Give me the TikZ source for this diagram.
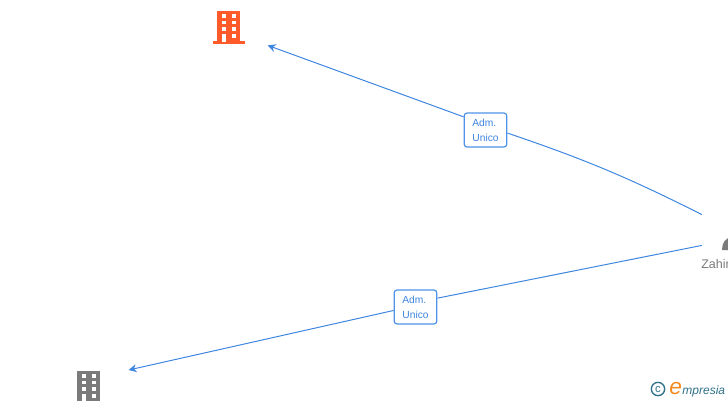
\documentclass[tikz,border=0pt]{standalone}
\usepackage{fontspec}
\setmainfont{Liberation Sans}
\newfontfamily\logofont{Liberation Sans}
\usetikzlibrary{arrows.meta}
\definecolor{linkblue}{HTML}{3F86E0}
\definecolor{boxblue}{HTML}{4F93E8}
\definecolor{cooorange}{HTML}{FF5A2A}
\definecolor{coogray}{HTML}{7B7B7B}
\definecolor{logoteal}{HTML}{2F7188}
\definecolor{logoorange}{HTML}{F28A1E}
\tikzset{
	link/.style={draw=linkblue, line width=.75pt},
	linkarrow/.style={link, -{Stealth[length=6pt,width=6pt]}},
	rolebox/.style={rectangle, draw=boxblue, line width=.9pt, rounded corners=2.2pt, fill=white, text=linkblue, minimum width=32pt, minimum height=25.5pt, inner sep=0pt, align=left, font=\fontsize{7.7}{11.25}\selectfont},
	iconzone/.style={circle, minimum size=64.5pt, inner sep=0pt, outer sep=0pt},
	building/.pic={
		\fill (-12,-16) rectangle (11,15);
		\fill (-16,14) rectangle (16,17);
		\foreach \row in {-12.5,-6,0.5}{
			\fill[white] (-7.5,\row) rectangle (-3,\row+3.5);
			\fill[white] (2.5,\row) rectangle (6.5,\row+3.5);
		}
		\fill[white] (-7.5,7) rectangle (-3,15);
		\fill[white] (2.5,7) rectangle (6.5,11);
	}
}
\begin{document}
\begin{tikzpicture}[x=.75pt, y=-.75pt]
	\path[use as bounding box, clip] (0,0) rectangle (728,400);

	\node[iconzone] (orangeco) at (229,26.5) {};
	\node[iconzone] (grayco) at (89,386.8) {};
	\node[iconzone] (zahir) at (742,230) {};
	\pic[cooorange] at (orangeco) {building};
	\pic[coogray] at (grayco) {building};

	\fill[coogray] (722,250) .. controls (722,243) and (725,238) .. (732,237) -- (732,250) -- cycle;
	\node[anchor=west, inner sep=0pt, text=coogray, font=\fontsize{9.4}{11}\selectfont] (zahirname) at (701,264) {Zahir};

	\node[rolebox] (adm1) at (485.5,130) {Adm.\\Unico};
	\node[rolebox] (adm2) at (415.5,307) {Adm.\\Unico};

	\draw[link] (zahir.159) to[bend right=4] (adm1.-8);
	\draw[linkarrow] (adm1.149) -- (orangeco.-26);
	\draw[link] (zahir.201) -- (adm2.22);
	\draw[linkarrow] (adm2.189) -- (grayco.23);

	% logo
	\node[circle, draw=logoteal, line width=1pt, text=logoteal, inner sep=0pt, minimum size=10pt, font=\fontsize{8.5}{9}\selectfont] (copy) at (658,389) {c};
	\node[anchor=base west, inner sep=0pt, text=logoorange, font=\logofont\itshape\fontsize{17}{17}\selectfont] (logoe) at (669,394) {e};
	\node[anchor=base west, inner sep=0pt, text=logoteal, font=\logofont\itshape\fontsize{9}{11}\selectfont] (logoname) at (logoe.base east) {mpresia};
\end{tikzpicture}
\end{document}
